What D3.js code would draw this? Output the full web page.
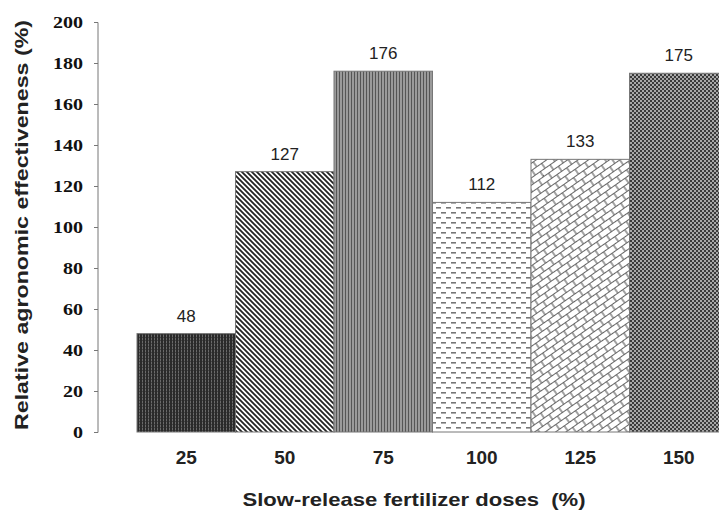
<!DOCTYPE html>
<html lang="en">
<head>
<meta charset="UTF-8">
<title>Relative agronomic effectiveness</title>
<script src="https://d3js.org/d3.v7.min.js"></script>
<style>
  body { margin: 0; background: #fff; }
  .yaxis text { font-family: "Liberation Serif", "Times New Roman", serif; font-weight: bold; font-size: 17px; }
</style>
</head>
<body>
<svg width="719" height="513"></svg>
<script>
// data
const doses = ["25", "50", "75", "100", "125", "150"];
const effectiveness = [48, 127, 176, 112, 133, 175];
const patternIds = ["p25", "p50", "p75", "p100", "p125", "p150"];
const yTicks = [0, 20, 40, 60, 80, 100, 120, 140, 160, 180, 200];

const svg = d3.select("svg");
const defs = svg.append("defs");
const sans = "'Liberation Sans', Arial, sans-serif";

// fill patterns
function pattern(id, w, h) {
  return defs.append("pattern").attr("id", id)
    .attr("patternUnits", "userSpaceOnUse")
    .attr("width", w).attr("height", h);
}
// 25: dark fine grid
let p = pattern("p25", 3, 3);
p.append("rect").attr("width", 3).attr("height", 3).attr("fill", "#2a2a2a");
p.append("rect").attr("x", 1).attr("width", 1).attr("height", 3).attr("fill", "#6a6a6a");
p.append("rect").attr("x", 1).attr("y", 1).attr("width", 1).attr("height", 1).attr("fill", "#444");
// 50: diagonal lines "\"
p = pattern("p50", 5, 5);
p.append("rect").attr("width", 5).attr("height", 5).attr("fill", "#fff");
p.append("path").attr("d", "M-1,-1 L6,6 M-1,4 L1,6 M4,-1 L6,1")
  .attr("stroke", "#222").attr("stroke-width", 1.8);
// 75: vertical lines on gray
p = pattern("p75", 3, 3);
p.append("rect").attr("width", 3).attr("height", 3).attr("fill", "#9a9a9a");
p.append("rect").attr("x", 0).attr("width", 1).attr("height", 3).attr("fill", "#555");
// 100: staggered dashes
p = pattern("p100", 10, 10);
p.append("rect").attr("width", 10).attr("height", 10).attr("fill", "#fff");
p.append("rect").attr("x", 1).attr("y", 2).attr("width", 5).attr("height", 1.6).attr("fill", "#777");
p.append("rect").attr("x", 6).attr("y", 7).attr("width", 5).attr("height", 1.6).attr("fill", "#777");
p.append("rect").attr("x", -4).attr("y", 7).attr("width", 5).attr("height", 1.6).attr("fill", "#777");
// 125: diagonal bricks
p = pattern("p125", 12, 12).attr("patternTransform", "rotate(-35)");
p.append("rect").attr("width", 12).attr("height", 12).attr("fill", "#fff");
p.append("path").attr("d", "M0,0.5 H12 M0,6.5 H12 M2,0 V6 M8,6 V12")
  .attr("stroke", "#666").attr("stroke-width", 1.2);
// 150: checkerboard
p = pattern("p150", 4, 4);
p.append("rect").attr("width", 4).attr("height", 4).attr("fill", "#3a3a3a");
p.append("rect").attr("width", 2).attr("height", 2).attr("fill", "#a8a8a8");
p.append("rect").attr("x", 2).attr("y", 2).attr("width", 2).attr("height", 2).attr("fill", "#a8a8a8");

// scales
const x = d3.scaleBand().domain(doses).range([137, 728]).padding(0);
const y = d3.scaleLinear().domain([0, 200]).range([432, 22]);

// y axis
const yAxis = svg.append("g")
  .attr("class", "yaxis")
  .attr("transform", "translate(98,0)")
  .call(d3.axisLeft(y).tickValues(yTicks).tickSize(4).tickPadding(11));
yAxis.attr("font-family", "Liberation Serif").attr("font-size", 17);
yAxis.selectAll("path, line").attr("stroke", "#777");
yAxis.select(".domain").attr("d", "M-4,22.5H0V432.5H-4");
yAxis.selectAll("text")
  .attr("fill", "#111")
  .attr("textLength", d => String(d).length * 10)
  .attr("lengthAdjust", "spacingAndGlyphs");

// bars
svg.selectAll(".bar")
  .data(doses)
  .enter().append("rect")
    .attr("class", "bar")
    .attr("x", d => x(d))
    .attr("y", (d, i) => y(effectiveness[i]))
    .attr("width", x.bandwidth())
    .attr("height", (d, i) => y(0) - y(effectiveness[i]))
    .attr("fill", (d, i) => `url(#${patternIds[i]})`)
    .attr("stroke", "#777").attr("stroke-width", 1);

// value labels
svg.selectAll(".val")
  .data(doses)
  .enter().append("text")
    .attr("x", d => x(d) + x.bandwidth() / 2)
    .attr("y", (d, i) => y(effectiveness[i]) - 12)
    .attr("text-anchor", "middle")
    .style("font-family", sans)
    .style("font-size", "17px").attr("fill", "#222")
    .text((d, i) => effectiveness[i]);

// x labels
svg.selectAll(".xl")
  .data(doses)
  .enter().append("text")
    .attr("x", d => x(d) + x.bandwidth() / 2)
    .attr("y", 464)
    .attr("text-anchor", "middle")
    .style("font-family", sans)
    .style("font-weight", "bold").style("font-size", "19px").attr("fill", "#222")
    .text(d => d);

// axis titles
svg.append("text")
  .attr("x", 414).attr("y", 506)
  .attr("text-anchor", "middle")
  .attr("textLength", 343).attr("lengthAdjust", "spacingAndGlyphs")
  .style("font-family", sans)
  .style("font-weight", "bold").style("font-size", "19px").attr("fill", "#222")
  .style("white-space", "pre")
  .text("Slow-release fertilizer doses  (%)");

svg.append("text")
  .attr("transform", "translate(28,225) rotate(-90)")
  .attr("text-anchor", "middle")
  .attr("textLength", 410).attr("lengthAdjust", "spacingAndGlyphs")
  .style("font-family", sans)
  .style("font-weight", "bold").style("font-size", "19px").attr("fill", "#222")
  .text("Relative agronomic effectiveness (%)");
</script>
</body>
</html>
